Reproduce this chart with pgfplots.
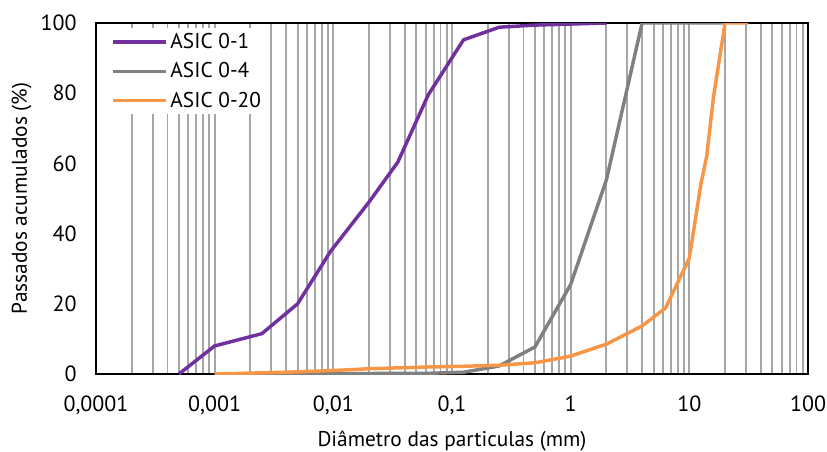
\documentclass[border=0pt]{standalone}
\usepackage{pgfplots}
\pgfplotsset{compat=1.18}
\usepackage{fontspec}
\setmainfont{PT Sans}
\definecolor{cpurple}{HTML}{7030A0}
\definecolor{cgray}{HTML}{808080}
\definecolor{corange}{HTML}{F79646}
\definecolor{gridgray}{HTML}{A6A6A6}
\begin{document}
\begin{tikzpicture}
\useasboundingbox (0,0) rectangle (620.25pt,338.25pt);
\begin{axis}[
  at={(72pt,57.75pt)}, anchor=south west,
  scale only axis, width=534pt, height=263.25pt,
  xmode=log, log basis x=10,
  xmin=1e-4, xmax=100, ymin=0, ymax=100,
  xtick={1e-4,1e-3,0.01,0.1,1,10,100},
  xticklabels={{0,0001},{0,001},{0,01},{0,1},1,10,100},
  minor xtick={2e-4,3e-4,4e-4,5e-4,6e-4,7e-4,8e-4,9e-4,
    2e-3,3e-3,4e-3,5e-3,6e-3,7e-3,8e-3,9e-3,
    0.02,0.03,0.04,0.05,0.06,0.07,0.08,0.09,
    0.2,0.3,0.4,0.5,0.6,0.7,0.8,0.9,
    2,3,4,5,6,7,8,9,20,30,40,50,60,70,80,90},
  ytick={0,20,40,60,80,100},
  xmajorgrids=true, xminorgrids=true, ymajorgrids=false,
  grid style={draw=gridgray, line width=1.4pt},
  major grid style={draw=gridgray, line width=1.4pt},
  minor grid style={draw=gridgray, line width=1.4pt},
  major tick length=0pt, minor tick length=0pt,
  axis line style={black, line width=1.1pt},
  /pgf/number format/assume math mode=true,
  tick label style={font=\fontsize{16.5}{19}\selectfont},
  xticklabel style={yshift=-13pt},
  yticklabel style={xshift=-11pt},
  label style={font=\fontsize{16}{19}\selectfont},
  xlabel={Diâmetro das particulas (mm)},
  ylabel={Passados acumulados (\%)},
  xlabel style={yshift=-5pt},
  ylabel style={yshift=0pt},
  legend style={at={(0.017,0.986)}, anchor=north west, fill=white, draw=none,
    font=\fontsize{16}{19}\selectfont, row sep=5pt, inner sep=2pt},
  legend cell align=left,
  legend image code/.code={\draw[#1] (0pt,0pt) -- (40pt,0pt);},
  every axis plot/.append style={line width=2.6pt, line join=round},
]
\addplot[cpurple] coordinates {
(0.0005,0) (0.001,8) (0.0025,11.5) (0.005,20) (0.0095,35) (0.02,49) (0.035,60.4) (0.063,79.5) (0.125,95.2) (0.25,98.8) (0.5,99.4) (1,99.7) (2,100)};
\addlegendentry{ASIC 0-1}
\addplot[cgray] coordinates {
(0.001,0) (0.063,0.2) (0.125,0.5) (0.25,2.3) (0.5,7.7) (1,25.5) (2,55.3) (4,100) (20,100)};
\addlegendentry{ASIC 0-4}
\addplot[corange] coordinates {
(0.001,0) (0.005,0.6) (0.01,1) (0.02,1.5) (0.063,2) (0.125,2.2) (0.25,2.5) (0.5,3.2) (1,5.1) (2,8.5) (4,13.7) (6.3,18.8) (10,33) (12.5,54) (14,62) (16,79) (20,100) (31.5,100)};
\addlegendentry{ASIC 0-20}
\end{axis}
\end{tikzpicture}
\end{document}
